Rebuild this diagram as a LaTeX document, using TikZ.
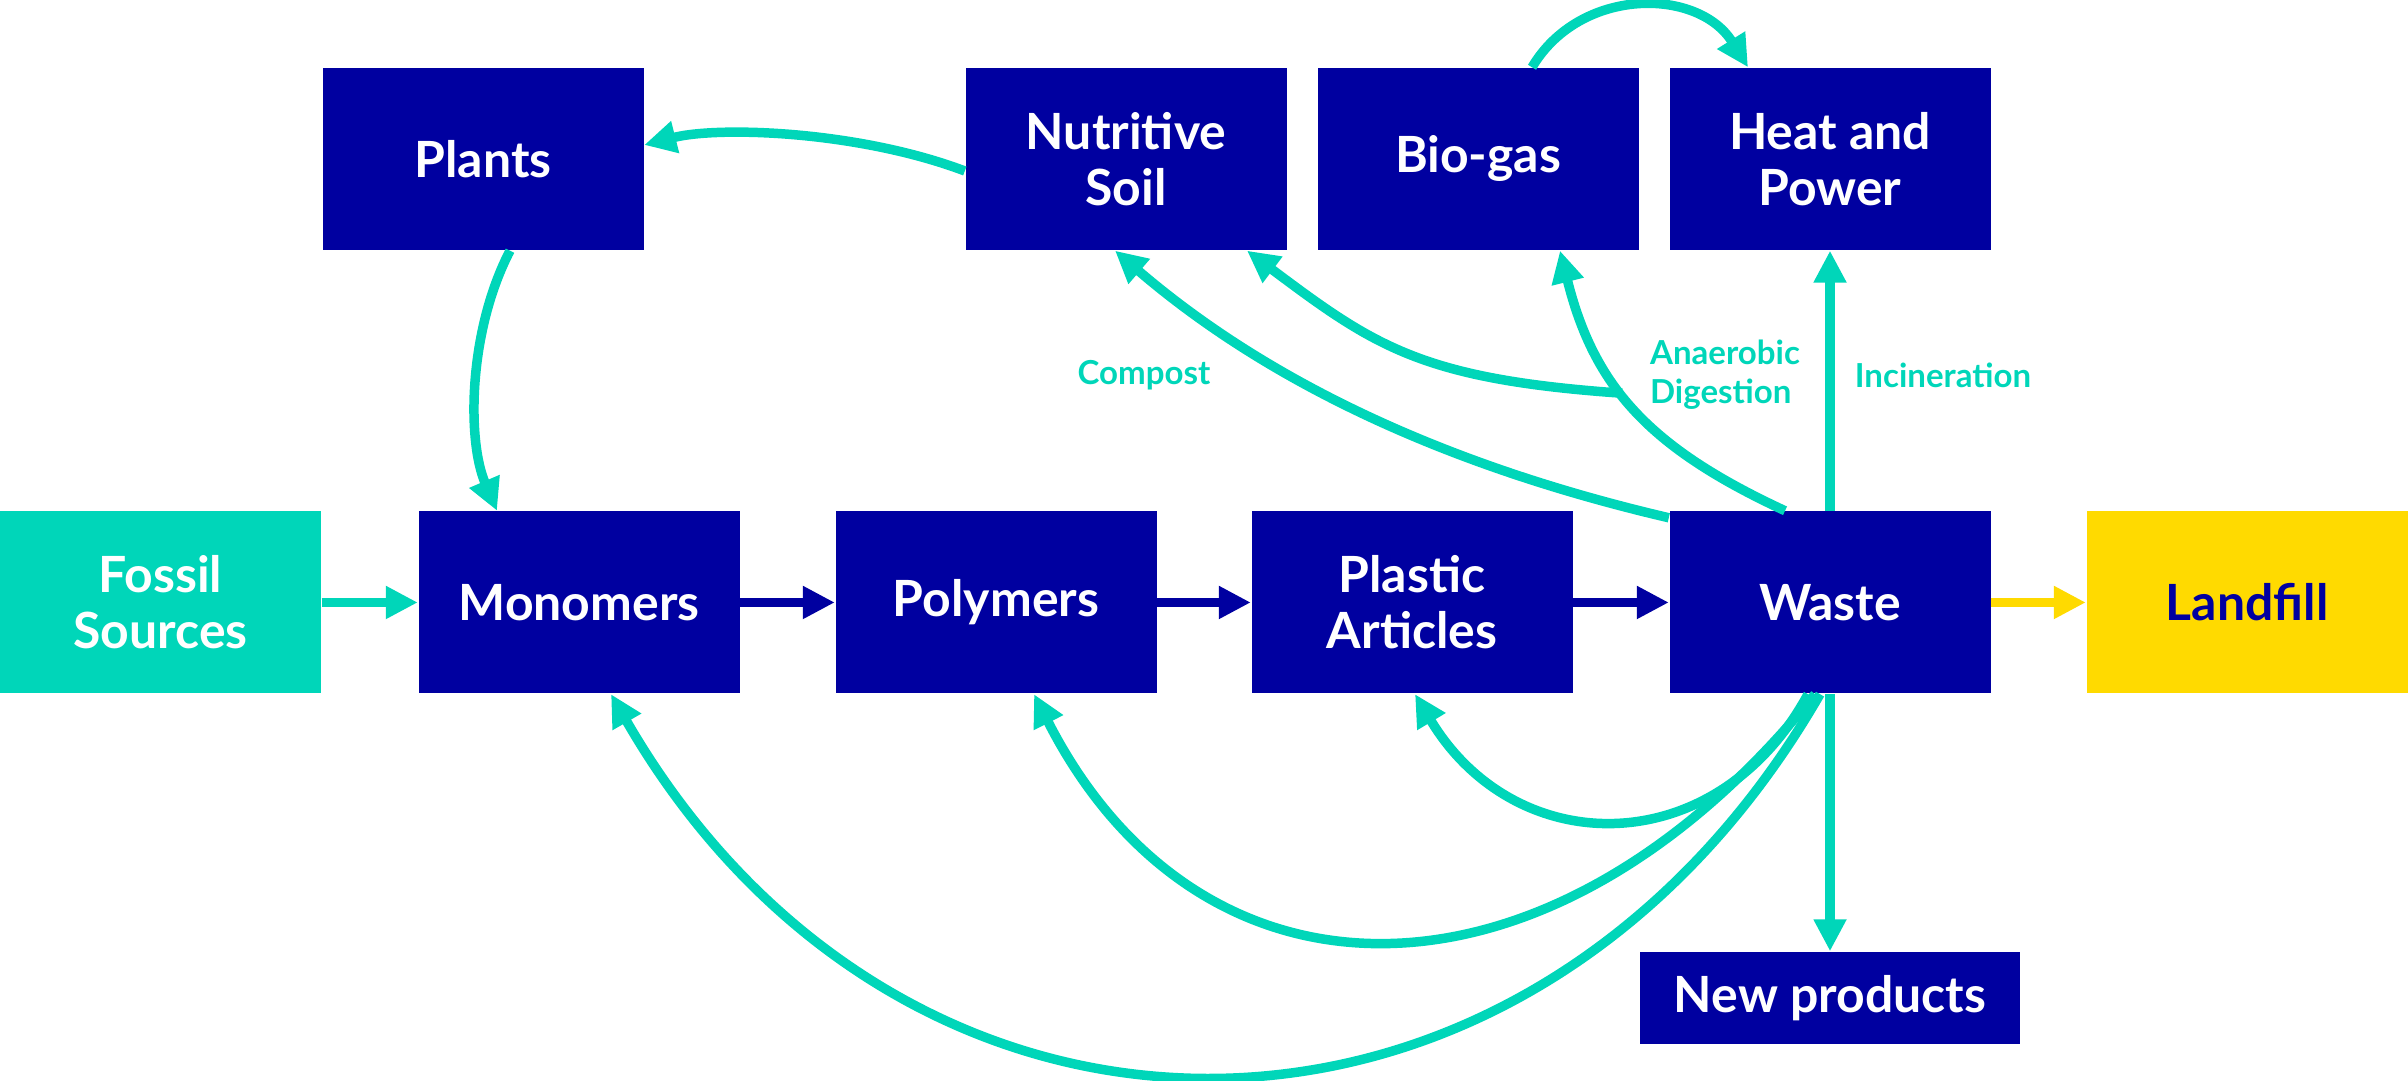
\documentclass[tikz,border=0pt]{standalone}
\usepackage{fontspec}
\setmainfont{Lato}
\usepackage{tikz}
\usetikzlibrary{arrows.meta}
\definecolor{navy}{RGB}{0,0,160}
\definecolor{mint}{RGB}{0,214,185}
\definecolor{sun}{RGB}{255,218,0}

\begin{document}
\begin{tikzpicture}[
  every node/.style={font=\bfseries\fontsize{14.2}{16}\selectfont},
  box/.style={rectangle, fill=navy, text=white, minimum width=3.21cm, minimum height=1.82cm, inner sep=0pt, align=center},
  flow/.style={line width=2.7pt, mint, -{Triangle[length=3.2mm,width=3.1mm]}},
  mainflow/.style={flow, navy},
  lbl/.style={mint, font=\bfseries\fontsize{9.4}{11}\selectfont, align=left}
]
  \useasboundingbox (0,0) rectangle (24.08,10.81);
  % top row
  \node[box] (plants) at (4.83,9.22) {Plants};
  \node[box] (soil) at (11.26,9.22) {Nutritive\\Soil};
  \node[box] (biogas) at (14.78,9.22) {Bio-gas};
  \node[box] (heat) at (18.30,9.22) {Heat and\\Power};
  % main chain
  \node[box, fill=mint] (fossil) at (1.605,4.785) {Fossil\\Sources};
  \node[box] (monomers) at (5.79,4.785) {Monomers};
  \node[box] (polymers) at (9.96,4.785) {Polymers};
  \node[box] (plastic) at (14.12,4.785) {Plastic\\Articles};
  \node[box] (waste) at (18.30,4.785) {Waste};
  \node[box, fill=sun, text=navy] (landfill) at (22.47,4.785) {Landfill};
  \node[box, minimum width=3.80cm, minimum height=0.92cm] (newprod) at (18.30,0.83) {New products};
  % labels
  \node[lbl] (compost) at (11.44,7.06) {Compost};
  \node[lbl] (anaerobic) at (17.25,7.06) {Anaerobic\\Digestion};
  \node[lbl] (incineration) at (19.43,7.06) {Incineration};

  % straight arrows
  \draw[flow] (fossil) -- (monomers);
  \draw[mainflow] (monomers) -- (polymers);
  \draw[mainflow] (polymers) -- (plastic);
  \draw[mainflow] (plastic) -- (waste);
  \draw[flow, sun] (waste) -- (landfill);
  \draw[flow] (waste) -- (heat);
  \draw[flow] (waste) -- (newprod);

  % nature loop
  \draw[flow] ([yshift=-1.2mm]soil.west) .. controls +(-1.06,0.40) and +(0.75,0.19) .. ([yshift=1.4mm]plants.east);
  \draw[flow] ([xshift=2.7mm]plants.south) .. controls +(-0.42,-0.81) and +(-0.30,0.70) .. ([xshift=-8.2mm]monomers.north);
  \draw[flow] ([xshift=5.4mm]biogas.north) .. controls +(0.48,0.81) and +(-0.50,0.80) .. ([xshift=-8.2mm]heat.north);

  % waste treatment
  \draw[flow] ([yshift=-0.7mm]waste.north west) .. controls +(-1.95,0.455) and +(1.69,-1.45) .. ([xshift=-1.1mm]soil.south);
  \draw[flow] ([xshift=-4.5mm]waste.north) .. controls +(-1.36,0.63) and +(0.34,-1.36) .. ([xshift=8.2mm]biogas.south)
    coordinate[pos=0.56] (digest);
  \draw[flow] (digest) .. controls +(-2.0,0.14) and +(1.28,-0.96) .. ([xshift=12.1mm]soil.south);

  % recycling loops
  \draw[flow] ([xshift=-2.2mm]waste.south) .. controls +(-0.91,-1.68) and +(1.01,-1.68) .. ([xshift=0.3mm]plastic.south);
  \draw[flow] ([xshift=-1.5mm]waste.south) .. controls +(-2.65,-3.28) and +(1.67,-3.28) .. ([xshift=3.8mm]polymers.south);
  \draw[flow] ([xshift=-1mm]waste.south) .. controls +(-2.93,-5.08) and +(2.93,-5.08) .. ([xshift=3.2mm]monomers.south);
\end{tikzpicture}
\end{document}
